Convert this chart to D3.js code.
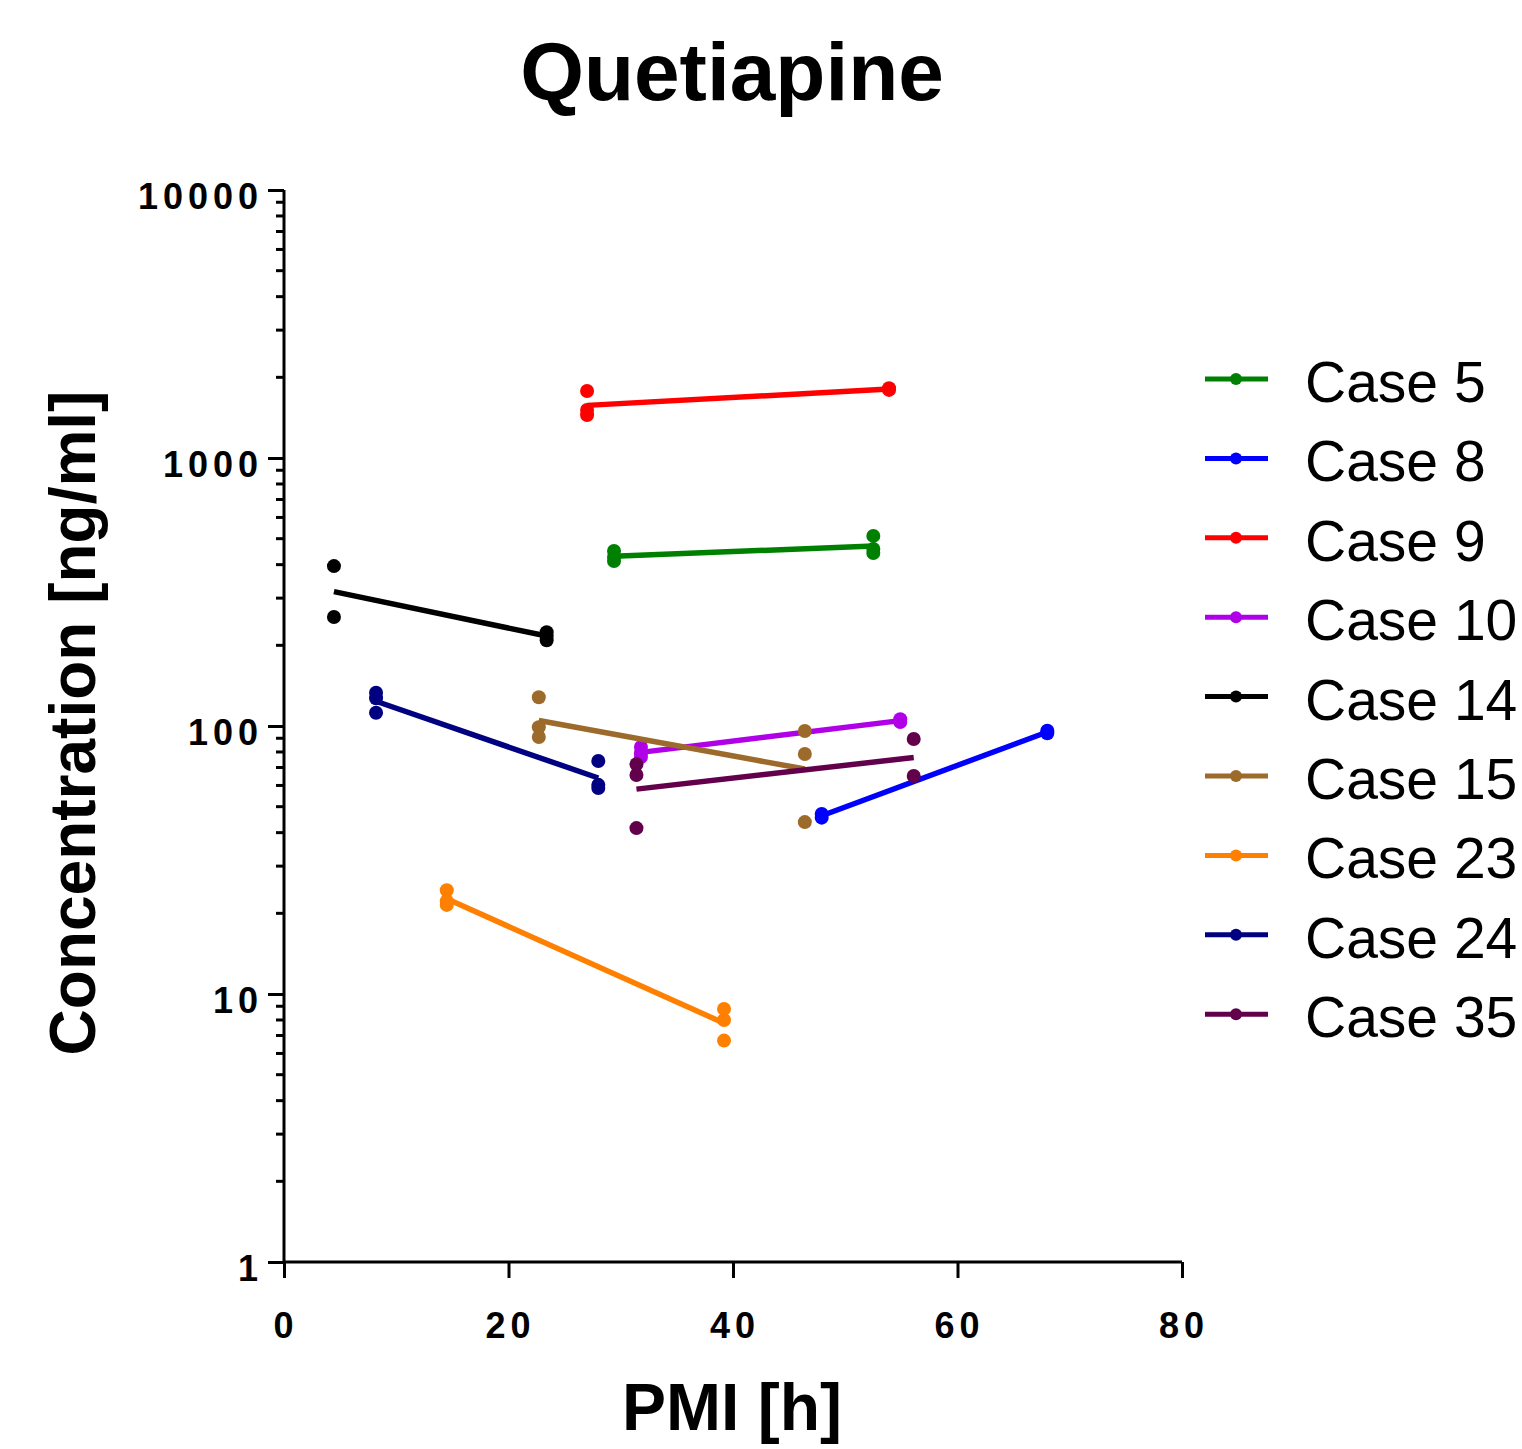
<!DOCTYPE html>
<html>
<head>
<meta charset="utf-8">
<script src="https://cdn.jsdelivr.net/npm/d3@7"></script>
<style>
  html, body { margin: 0; padding: 0; background: #fff; }
  svg { display: block; font-family: "Liberation Sans", Arial, Helvetica, sans-serif; }
</style>
</head>
<body>
<svg id="chart" width="1522" height="1449"></svg>
<script>
// ---------- data ----------
const cases   = ["Case 5", "Case 8", "Case 9", "Case 10", "Case 14", "Case 15", "Case 23", "Case 24", "Case 35"];
const colors  = ["#008000", "#0000ff", "#ff0000", "#b000e8", "#000000", "#9c6a2a", "#ff8000", "#000080", "#62004c"];
const pmiEarly = [29.4, 47.9, 27.0, 31.8, 4.45, 22.7, 14.5, 8.2, 31.4];
const pmiLate  = [52.5, 68.0, 53.9, 54.9, 23.4, 46.4, 39.2, 28.0, 56.1];
const concEarly = [
  [450, 427, 413],
  [47, 45.5],
  [1778, 1510, 1446],
  [83.5, 79.2, 76.6],
  [395, 255],
  [128, 99, 91],
  [24.4, 22.2, 21.5],
  [133, 127, 112],
  [72, 65.6, 41.6]
];
const concLate = [
  [512, 458, 442],
  [96, 94],
  [1820, 1795],
  [106, 103.5],
  [224, 217, 209],
  [95.8, 78.6, 43.8],
  [8.8, 8.0, 6.7],
  [74, 60.3, 58.7],
  [89.4, 65.1]
];
const xTicks = [0, 20, 40, 60, 80];
const yTicks = [1, 10, 100, 1000, 10000];
const titleText = "Quetiapine";
const xTitle = "PMI [h]";
const yTitle = "Concentration [ng/ml]";

// ---------- layout ----------
const svg = d3.select("#chart");
const x = d3.scaleLinear().domain([0, 80]).range([284, 1182]);
const y = d3.scaleLog().domain([1, 10000]).range([1262, 190]);

// title
svg.append("text").attr("x", 732).attr("y", 100).attr("text-anchor", "middle")
  .attr("font-size", 82).attr("font-weight", "bold").text(titleText);

// axes
const axisG = svg.append("g");
const yAxis = d3.axisLeft(y).tickValues(yTicks).tickSize(16).tickFormat("");
const gy = axisG.append("g").attr("transform", "translate(284,0)").call(yAxis);
const minor = [];
for (let d = 1; d < 10000; d *= 10) for (let k = 2; k <= 9; k++) minor.push(d * k);
gy.selectAll(".minor").data(minor).enter().append("line")
  .attr("class", "minor").attr("x1", -8).attr("x2", 0)
  .attr("y1", d => y(d)).attr("y2", d => y(d));
gy.select(".domain").attr("d", `M0,${y(10000)}V${y(1)}`);
gy.selectAll("line").attr("stroke", "#000").attr("stroke-width", 3);
gy.select(".domain").attr("stroke", "#000").attr("stroke-width", 3);

svg.append("g").selectAll("text").data(yTicks).enter().append("text")
  .attr("x", 263).attr("y", d => y(d) + 19)
  .attr("text-anchor", "end").attr("font-size", 36).attr("font-weight", "bold")
  .attr("letter-spacing", 5).text(d => d3.format("d")(d));

const xAxis = d3.axisBottom(x).tickValues(xTicks).tickSize(16).tickFormat("");
const gx = axisG.append("g").attr("transform", "translate(0,1262)").call(xAxis);
gx.select(".domain").attr("d", `M${x(0)},0H${x(80)}`).attr("stroke", "#000").attr("stroke-width", 3);
gx.selectAll("line").attr("stroke", "#000").attr("stroke-width", 3);

svg.append("g").selectAll("text").data(xTicks).enter().append("text")
  .attr("x", d => x(d) + 2).attr("y", 1338)
  .attr("text-anchor", "middle").attr("font-size", 36).attr("font-weight", "bold")
  .attr("letter-spacing", 5).text(d => d);

// axis titles
svg.append("text").attr("x", 732).attr("y", 1430).attr("text-anchor", "middle")
  .attr("font-size", 66).attr("font-weight", "bold").text(xTitle);
svg.append("text").attr("transform", "translate(95,723) rotate(-90)")
  .attr("text-anchor", "middle").attr("font-size", 64).attr("font-weight", "bold").text(yTitle);

// ---------- series ----------
const geoMean = arr => Math.pow(10, d3.mean(arr, v => Math.log10(v)));
const plot = svg.append("g");
cases.forEach((c, i) => {
  const g = plot.append("g");
  const pts = concEarly[i].map(v => [pmiEarly[i], v]).concat(concLate[i].map(v => [pmiLate[i], v]));
  const lineData = [[pmiEarly[i], geoMean(concEarly[i])], [pmiLate[i], geoMean(concLate[i])]];
  g.append("path").datum(lineData)
    .attr("d", d3.line().x(d => x(d[0])).y(d => y(d[1])))
    .attr("fill", "none").attr("stroke", colors[i]).attr("stroke-width", 5.5);
  g.selectAll("circle").data(pts).enter().append("circle")
    .attr("cx", d => x(d[0])).attr("cy", d => y(d[1])).attr("r", 7)
    .attr("fill", colors[i]);
});

// ---------- legend ----------
const leg = svg.append("g");
cases.forEach((c, i) => {
  const cy = 379 + i * 79.4;
  leg.append("line").attr("x1", 1205).attr("x2", 1268).attr("y1", cy).attr("y2", cy)
    .attr("stroke", colors[i]).attr("stroke-width", 5);
  leg.append("circle").attr("cx", 1236).attr("cy", cy).attr("r", 6).attr("fill", colors[i]);
  leg.append("text").attr("x", 1305).attr("y", cy + 23).attr("font-size", 57).text(c);
});
</script>
</body>
</html>
